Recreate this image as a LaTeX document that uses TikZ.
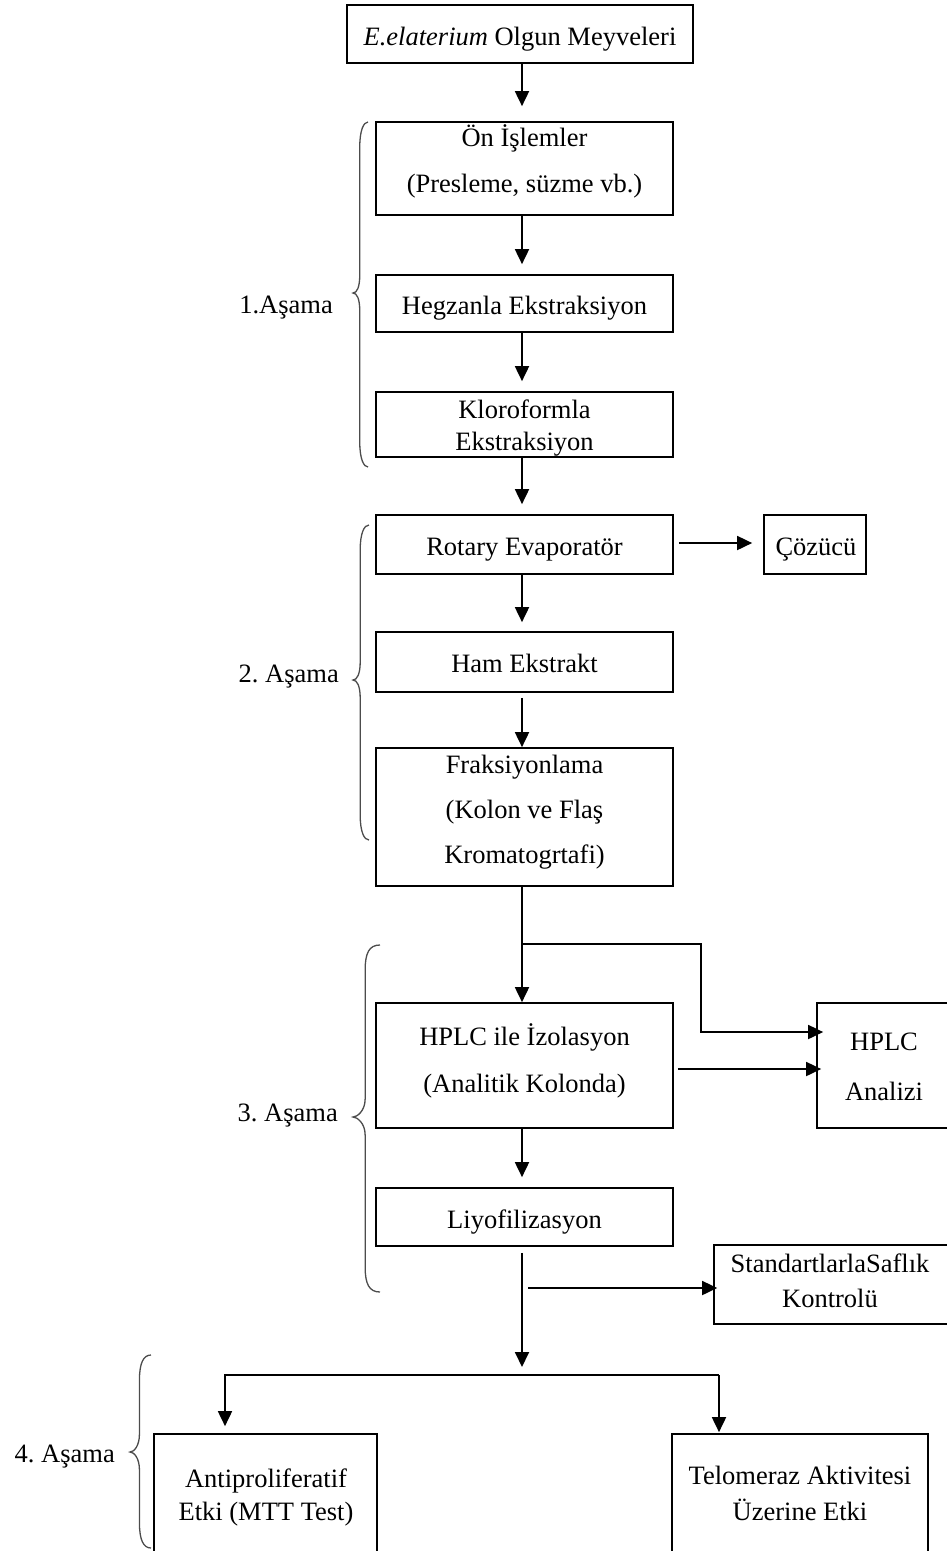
\documentclass[tikz,border=0pt]{standalone}
\usepackage{fontspec}
\setmainfont{Liberation Serif}
\usetikzlibrary{arrows.meta}
\frenchspacing
% invisible struts that fix the extent of multi-line labels
\newcommand\topstrut{\rule{0pt}{24pt}}
\newcommand\botstrut{\rule[-7pt]{0pt}{7pt}}
% curly brace: #1 outer x, #2 tip x, #3 top y, #4 tip y, #5 bottom y
\newcommand\drawbrace[5]{%
  \pgfmathsetmacro\brx{#2+0.45*(#1-#2)}
  \draw[brace] (#1,#3) .. controls (\brx+4,#3) and (\brx,#3+8) .. (\brx,#3+25)
    -- (\brx,#4-18) .. controls (\brx,#4-6) and (#2+4,#4) .. (#2,#4)
    .. controls (#2+4,#4) and (\brx,#4+6) .. (\brx,#4+18)
    -- (\brx,#5-25) .. controls (\brx,#5-8) and (\brx+4,#5) .. (#1,#5);
}
\begin{document}
\begin{tikzpicture}[x=1pt,y=-1pt,
  box/.style 2 args={draw, line width=1.7pt, inner sep=0pt, minimum width=#1, minimum height=#2},
  txt/.style={inner sep=0pt, font=\fontsize{26.5}{32}\selectfont, text height=18pt, text depth=6pt},
  mtxt/.style={inner sep=0pt, align=center, font=\fontsize{26.5}{#1}\selectfont},
  arr/.style={line width=1.8pt, -{Triangle[length=15pt,width=14pt]}},
  brace/.style={line width=1.3pt, draw=black!70}]
\useasboundingbox (0,0) rectangle (947,1551);
\clip (0,0) rectangle (947,1551);

% process boxes
\node[box={346pt}{58pt}] (top) at (520,34) {};
\node[txt] (topt) at (520,39) {\textit{E.elaterium} Olgun Meyveleri};

\node[box={297pt}{93pt}] (A) at (524.5,168.5) {};
\node[mtxt=46] (At) at (524.5,160.5) {\topstrut Ön İşlemler\\(Presleme, süzme vb.)\botstrut};

\node[box={297pt}{57pt}] (B) at (524.5,303.5) {};
\node[txt] (Bt) at (524.5,308) {Hegzanla Ekstraksiyon};

\node[box={297pt}{65pt}] (C) at (524.5,424.5) {};
\node[mtxt=32] (Ct) at (524.5,425.5) {\topstrut Kloroformla\\Ekstraksiyon\botstrut};

\node[box={297pt}{59pt}] (D) at (524.5,544.5) {};
\node[txt] (Dt) at (524.5,549) {Rotary Evaporatör};

\node[box={102pt}{59pt}] (Coz) at (815,544.5) {};
\node[txt] (Cozt) at (816,549) {Çözücü};

\node[box={297pt}{60pt}] (E) at (524.5,662) {};
\node[txt] (Et) at (524.5,666) {Ham Ekstrakt};

\node[box={297pt}{138pt}] (F) at (524.5,817) {};
\node[mtxt=45] (Ft) at (524.5,809.5) {\topstrut Fraksiyonlama\\(Kolon ve Flaş\\Kromatogrtafi)\botstrut};

\node[box={297pt}{125pt}] (G) at (524.5,1065.5) {};
\node[mtxt=47] (Gt) at (524.5,1060) {\topstrut HPLC ile İzolasyon\\(Analitik Kolonda)\botstrut};

\node[box={134pt}{125pt}] (HP) at (884,1065.5) {};
\node[mtxt=50] (HPt) at (884,1066.5) {\topstrut HPLC\\Analizi\botstrut};

\node[box={297pt}{58pt}] (H) at (524.5,1217) {};
\node[txt] (Ht) at (524.5,1222) {Liyofilizasyon};

\node[box={236pt}{79pt}] (I) at (832,1284.5) {};
\node[mtxt=35] (It) at (830,1281) {\topstrut StandartlarlaSaflık\\Kontrolü\botstrut};

\node[box={223pt}{126pt}] (J) at (265.5,1497) {};
\node[mtxt=33] (Jt) at (266,1495) {\topstrut Antiproliferatif\\Etki (MTT Test)\botstrut};

\node[box={256pt}{126pt}] (K) at (800,1497) {};
\node[mtxt=36] (Kt) at (800,1493.5) {\topstrut Telomeraz Aktivitesi\\Üzerine Etki\botstrut};

% stage labels
\node[txt, anchor=base east] (s1) at (333,313) {1.Aşama};
\node[txt, anchor=base east] (s2) at (339,682) {2. Aşama};
\node[txt, anchor=base east] (s3) at (338,1121) {3. Aşama};
\node[txt, anchor=base east] (s4) at (115,1462) {4. Aşama};

% stage braces
\drawbrace{368}{353}{122}{293}{467}
\drawbrace{369}{353}{525}{680}{840}
\drawbrace{380}{353}{945}{1117}{1292}
\drawbrace{151}{130}{1355}{1452}{1548}

% flow
\coordinate (col) at (522,0);
\draw[arr, shorten >=15pt] (top.south -| col) -- (A.north -| col);
\draw[arr, shorten >=10pt] (A.south -| col) -- (B.north -| col);
\draw[arr, shorten >=10pt] (B.south -| col) -- (C.north -| col);
\draw[arr, shorten >=10pt] (C.south -| col) -- (D.north -| col);
\draw[arr, shorten <=5pt, shorten >=11pt] ([yshift=1.5pt]D.east) -- ([yshift=1.5pt]Coz.west);
\draw[arr, shorten >=9pt] (D.south -| col) -- (E.north -| col);
\draw[arr, shorten <=5pt] (E.south -| col) -- (F.north -| col);
\draw[arr] (F.south -| col) -- (G.north -| col);

\coordinate (br1) at (522,944);
\coordinate (br2) at (701,944);
\coordinate (hpA) at ([yshift=33.5pt]HP.west);
\draw[arr, shorten >=-7pt] (br1) -- (br2) |- (hpA);
\draw[arr, shorten <=4pt, shorten >=-5pt] ([yshift=-3.5pt]G.east) -- ([yshift=-3.5pt]HP.west);

\draw[arr, shorten >=10pt] (G.south -| col) -- (H.north -| col);
\coordinate (mid) at (522,1367);
\draw[arr, shorten <=6pt] (H.south -| col) -- (mid);
\coordinate (toI) at (528,1288);
\draw[arr, shorten >=-4pt] (toI) -- ([yshift=-3.5pt]I.west);

\coordinate (splitL) at (225,1375);
\coordinate (splitR) at (719,1375);
\draw[arr, shorten >=7pt] (splitR) -- (splitL) -- (splitL |- J.north);
\draw[arr, shorten >=1pt] (splitR) -- (splitR |- K.north);
\end{tikzpicture}
\end{document}
